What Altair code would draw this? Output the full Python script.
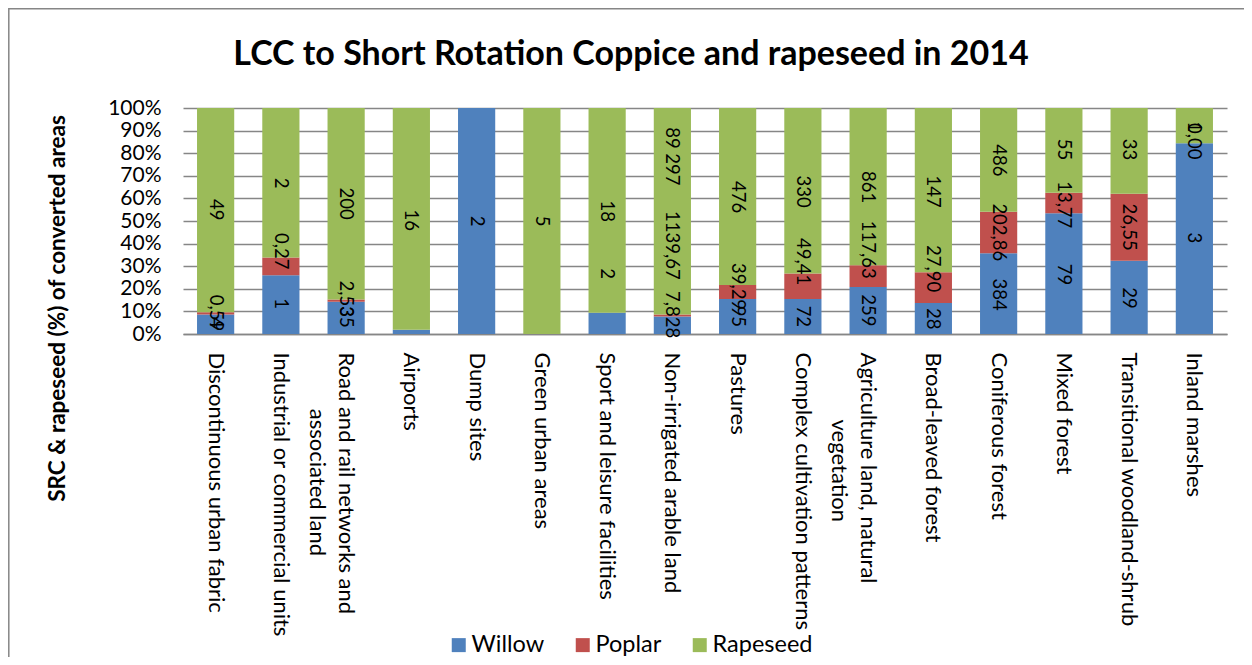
import json
import altair as alt
import pandas as pd

categories = [
    "Discontinuous urban fabric",
    "Industrial or commercial units",
    "Road and rail networks and associated land",
    "Airports",
    "Dump sites",
    "Green urban areas",
    "Sport and leisure facilities",
    "Non-irrigated arable land",
    "Pastures",
    "Complex cultivation patterns",
    "Agriculture land, natural vegetation",
    "Broad-leaved forest",
    "Coniferous forest",
    "Mixed forest",
    "Transitional woodland-shrub",
    "Inland marshes",
]

# share of each land-cover class converted (%)
willow_pct = [8.6, 26.0, 14.3, 1.9, 100.0, 0.0, 9.4, 7.7, 15.5, 15.5, 20.8, 13.7, 35.7, 53.4, 32.4, 84.4]
poplar_pct = [1.0, 7.9, 1.0, 0.0, 0.0, 0.0, 0.0, 0.9, 6.2, 11.3, 9.6, 13.6, 18.4, 9.1, 29.7, 0.0]
rapeseed_pct = [90.4, 66.1, 84.7, 98.1, 0.0, 100.0, 90.6, 91.4, 78.3, 73.2, 69.6, 72.7, 45.9, 37.5, 37.9, 15.6]

# data labels (converted areas) as printed on the chart
willow_labels = ["4", "1", "35", "", "2", "", "2", "7,828", "95", "72", "259", "28", "384", "79", "29", "3"]
poplar_labels = ["0,59", "0,27", "2,53", "", "", "", "", "1139,67", "39,29", "49,41", "117,63", "27,90", "202,86", "13,77", "26,55", "0,00"]
rapeseed_labels = ["49", "2", "200", "16", "", "5", "18", "89 297", "476", "330", "861", "147", "486", "55", "33", "1"]

# where each data label sits on the % axis
willow_label_at = [5.0, 13.4, 7.5, 0, 50.0, 0, 26.7, 8.6, 7.8, 7.8, 10.5, 6.8, 17.4, 26.3, 15.9, 42.5]
poplar_label_at = [9.3, 36.6, 15.6, 0, 0, 0, 0, 39.2, 21.0, 32.0, 37.3, 28.9, 45.0, 57.2, 47.3, 85.3]
rapeseed_label_at = [55.0, 66.8, 57.7, 50.3, 0, 50.0, 54.3, 78.6, 60.6, 63.0, 65.0, 63.0, 76.8, 81.6, 81.6, 91.6]

y_ticks = [0, 10, 20, 30, 40, 50, 60, 70, 80, 90, 100]

series = ["Willow", "Poplar", "Rapeseed"]
colors = ["#4F81BD", "#C0504D", "#9BBB59"]

# wrapped tick labels; the second line is indented so that it sits centred
IND = "\u200b" + "\u00a0"
tick_labels = {
    "Road and rail networks and associated land": ["Road and rail networks and", IND * 10 + "associated land"],
    "Agriculture land, natural vegetation": ["Agriculture land, natural", IND * 12 + "vegetation"],
}

rows = []
pcts = [willow_pct, poplar_pct, rapeseed_pct]
labs = [willow_labels, poplar_labels, rapeseed_labels]
poss = [willow_label_at, poplar_label_at, rapeseed_label_at]
for i, c in enumerate(categories):
    for k, s in enumerate(series):
        rows.append({
            "cat": c, "series": s, "order": k,
            "pct": pcts[k][i], "label": labs[k][i], "label_at": poss[k][i],
        })
df = pd.DataFrame(rows)

FONT = "Lato"
GRID = "#868686"

expr = "datum.value"
for key, lines in tick_labels.items():
    expr = (f"datum.value == {json.dumps(key, ensure_ascii=False)} ? "
            f"{json.dumps(lines, ensure_ascii=False)} : ({expr})")

x_axis = alt.Axis(
    labelAngle=90, labelAlign="left", labelBaseline="middle",
    labelFontSize=22, labelFont=FONT, labelColor="black",
    labelPadding=18, labelLimit=400, labelLineHeight=29,
    labelExpr=expr, ticks=False, domainColor=GRID, domainWidth=1.5,
    labelOverlap=False, grid=False, title=None,
)
y_axis = alt.Axis(
    values=y_ticks, labelExpr="datum.value + '%'",
    labelFontSize=21, labelFont=FONT, labelColor="black", labelPadding=22,
    labelOverlap=False, grid=True,
    ticks=False, domain=False, gridColor=GRID, gridWidth=1.5,
    title="SRC & rapeseed (%) of converted areas",
    titleFont=FONT, titleFontSize=22.5, titleFontWeight="bold", titleColor="black",
    titleAngle=270, titleAlign="center", titleBaseline="middle",
    titleX=-126, titleY=200,
)
x_scale = alt.Scale(paddingInner=0.43, paddingOuter=0.215)
y_scale = alt.Scale(domain=[0, 100], nice=False)

bars = alt.Chart(df).mark_bar().encode(
    x=alt.X("cat:N", sort=categories, scale=x_scale, axis=x_axis, title=None),
    y=alt.Y("pct:Q", stack="zero", scale=y_scale, axis=y_axis,
            title="SRC & rapeseed (%) of converted areas"),
    color=alt.Color(
        "series:N", sort=series,
        scale=alt.Scale(domain=series, range=colors),
        legend=alt.Legend(
            title=None, orient="none", legendX=264, legendY=525,
            direction="horizontal", symbolType="square", symbolSize=196,
            symbolStrokeWidth=0, labelFontSize=23.5, labelFont=FONT, labelColor="black",
            labelOffset=1, columnPadding=26,
        ),
    ),
    order=alt.Order("order:Q", sort="ascending"),
)

texts = alt.Chart(df).transform_filter("datum.label != ''").mark_text(
    angle=90, align="center", baseline="middle", fontSize=18.5, font=FONT, color="black",
).encode(
    x=alt.X("cat:N", sort=categories, scale=x_scale, axis=x_axis, title=None),
    y=alt.Y("label_at:Q", scale=y_scale, axis=y_axis,
            title="SRC & rapeseed (%) of converted areas"),
    text="label:N",
)

frame = alt.Chart(pd.DataFrame({"f": [0]})).mark_rect(
    filled=False, stroke=GRID, strokeWidth=1.5,
).encode(
    x=alt.value(-174.2), x2=alt.value(1200), y=alt.value(-99.2), y2=alt.value(700),
)

chart = alt.layer(frame, bars, texts).properties(
    width=1044, height=226,
    title=alt.TitleParams(
        "LCC to Short Rotation Coppice and rapeseed in 2014",
        font=FONT, fontSize=34, fontWeight="bold", color="black",
        anchor="middle", frame="group", dx=-74, offset=-91, baseline="alphabetic",
    ),
    autosize=alt.AutoSizeParams(type="none"),
    padding={"left": 175, "top": 100, "right": 17, "bottom": 323},
).configure_view(stroke=None)

chart.save("out.html", embed_options={"renderer": "svg", "actions": False})
